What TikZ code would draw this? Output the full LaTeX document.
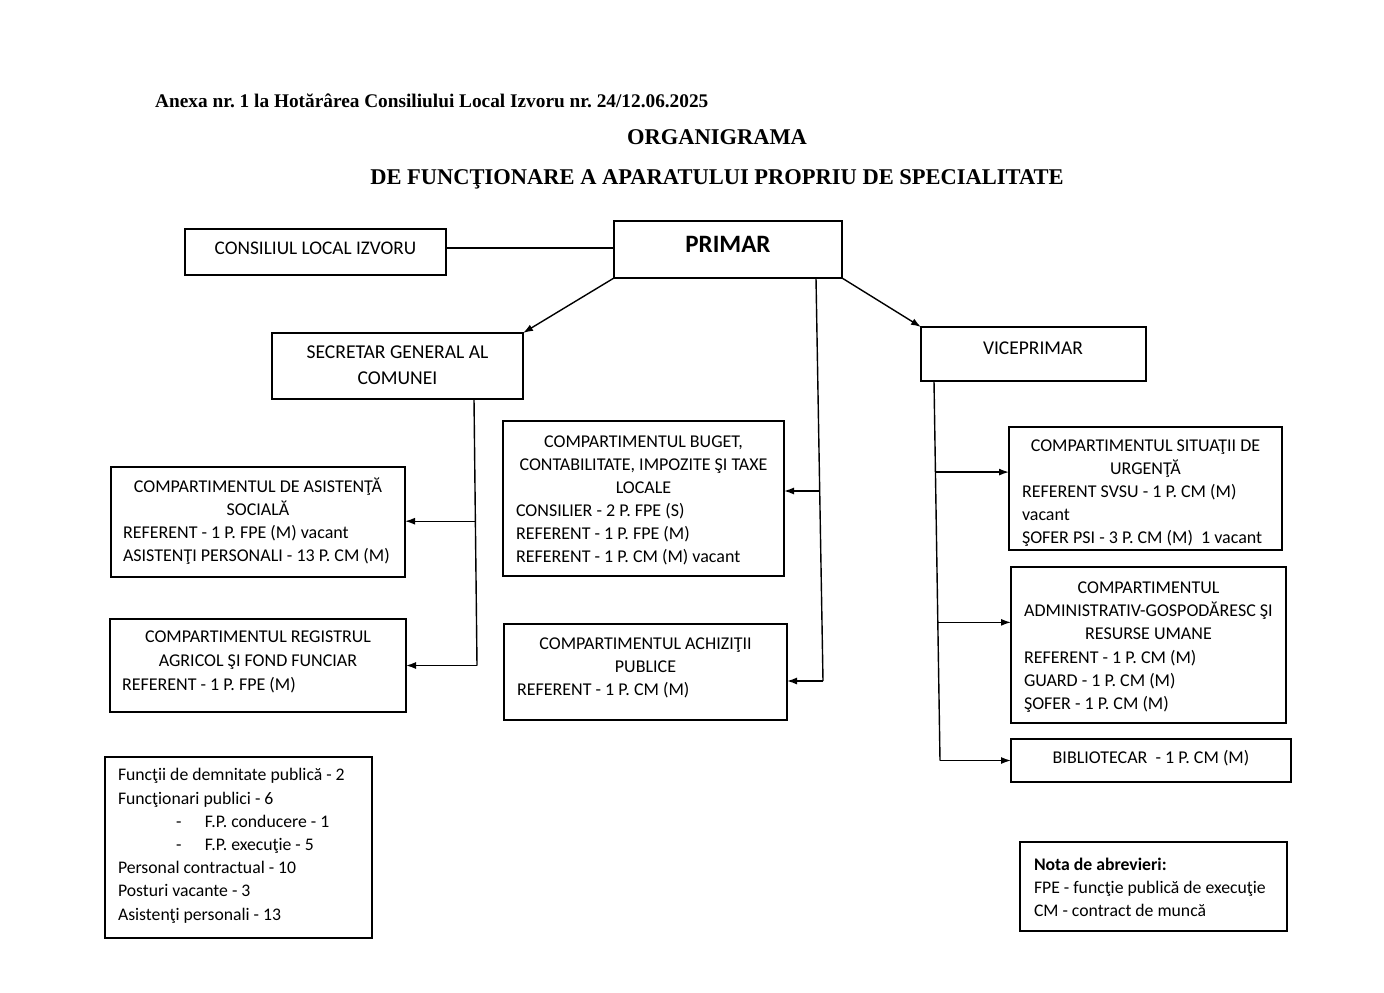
\documentclass[tikz,border=0pt]{standalone}
\usepackage{fontspec}
\setmainfont{Carlito}
\newfontfamily\serifT{Liberation Serif}
\usetikzlibrary{arrows.meta,calc}
\frenchspacing
\begin{document}
\begin{tikzpicture}[x=1pt,y=-1pt,
  box/.style={draw, line width=1.6pt, inner sep=0pt, outer sep=0pt, anchor=north west},
  txt/.style={inner sep=0pt, outer sep=0pt, font=\fontsize{18}{23}\selectfont},
  ctr/.style={txt, align=center, anchor=base},
  lft/.style={txt, align=left, anchor=base west},
  ttl/.style={inner sep=0pt, outer sep=0pt, anchor=base, font=\serifT\bfseries\fontsize{22.5}{26}\selectfont},
  conn/.style={line width=1.4pt},
  arr/.style={conn, -{Latex[length=10pt,width=7pt]}}]
\useasboundingbox[fill=white] (0,0) rectangle (1384,993);

% titles
\node[inner sep=0pt, anchor=base west, font=\serifT\bfseries\fontsize{19.3}{22}\selectfont] (anexa) at (155,107) {Anexa nr. 1 la Hotărârea Consiliului Local Izvoru nr. 24/12.06.2025};
\node[ttl] (org) at (717,144) {ORGANIGRAMA};
\node[ttl] (defn) at (717,184) {DE FUNCŢIONARE A APARATULUI PROPRIU DE SPECIALITATE};

% boxes
\node[box, minimum width=261, minimum height=46] (cons) at (185,229) {};
\node[box, minimum width=228, minimum height=57] (prim) at (614,221) {};
\node[box, minimum width=251, minimum height=66] (sec) at (272,333) {};
\node[box, minimum width=225, minimum height=54] (vice) at (921,327) {};
\node[box, minimum width=281, minimum height=155] (bug) at (503,421) {};
\node[box, minimum width=294, minimum height=110] (asis) at (111,467) {};
\node[box, minimum width=296, minimum height=93] (reg) at (110,619) {};
\node[box, minimum width=283, minimum height=96] (ach) at (504,624) {};
\node[box, minimum width=273, minimum height=123] (sit) at (1009,427) {};
\node[box, minimum width=275, minimum height=156] (adm) at (1011,567) {};
\node[box, minimum width=280, minimum height=43] (bib) at (1011,739) {};
\node[box, minimum width=267, minimum height=181] (sum) at (105,757) {};
\node[box, minimum width=267, minimum height=89] (nota) at (1020,842) {};

% texts (anchor base = baseline of the last line)
\node[ctr, font=\fontsize{19.3}{23}\selectfont] (consT) at (315.5,254) {CONSILIUL LOCAL IZVORU};
\node[ctr, font=\bfseries\fontsize{25}{30}\selectfont] (primT) at (728,252) {PRIMAR};
\node[ctr, font=\fontsize{19.6}{26}\selectfont] (secT) at (397.5,384) {SECRETAR GENERAL AL\\COMUNEI};
\node[ctr, font=\fontsize{19.5}{23}\selectfont] (viceT) at (1033,354) {VICEPRIMAR};

\node[ctr] (bugH) at (643.5,493) {COMPARTIMENTUL BUGET,\\CONTABILITATE, IMPOZITE ŞI TAXE\\LOCALE};
\node[lft] (bugL) at (516,562) {CONSILIER - 2 P. FPE (S)\\REFERENT - 1 P. FPE (M)\\REFERENT - 1 P. CM (M) vacant};

\node[ctr] (asisH) at (258,515) {COMPARTIMENTUL DE ASISTENŢĂ\\SOCIALĂ};
\node[lft] (asisL) at (123,561) {REFERENT - 1 P. FPE (M) vacant\\ASISTENŢI PERSONALI - 13 P. CM (M)};

\node[ctr, font=\fontsize{18}{24}\selectfont] (regH) at (258,666) {COMPARTIMENTUL REGISTRUL\\AGRICOL ŞI FOND FUNCIAR};
\node[lft] (regL) at (122,690) {REFERENT - 1 P. FPE (M)};

\node[ctr] (achH) at (645.5,672) {COMPARTIMENTUL ACHIZIŢII\\PUBLICE};
\node[lft] (achL) at (517,695) {REFERENT - 1 P. CM (M)};

\node[ctr] (sitH) at (1145.5,474) {COMPARTIMENTUL SITUAŢII DE\\URGENŢĂ};
\node[lft] (sitL) at (1022,543) {REFERENT SVSU - 1 P. CM (M)\\vacant\\ŞOFER PSI - 3 P. CM (M)\ \ 1 vacant};

\node[ctr] (admH) at (1148.5,639) {COMPARTIMENTUL\\ADMINISTRATIV-GOSPODĂRESC ŞI\\RESURSE UMANE};
\node[lft] (admL) at (1024,709) {REFERENT - 1 P. CM (M)\\GUARD - 1 P. CM (M)\\ŞOFER - 1 P. CM (M)};

\node[ctr] (bibT) at (1151,763) {BIBLIOTECAR\ \ - 1 P. CM (M)};

\node[lft, font=\fontsize{17.7}{23.2}\selectfont] (sumT) at (118,920) {Funcţii de demnitate publică - 2\\Funcţionari publici - 6\\\makebox[87pt][l]{\hspace*{58pt}-}F.P. conducere - 1\\\makebox[87pt][l]{\hspace*{58pt}-}F.P. execuţie - 5\\Personal contractual - 10\\Posturi vacante - 3\\Asistenţi personali - 13};

\node[lft, font=\fontsize{17.7}{23}\selectfont] (notaT) at (1034,916) {\textbf{Nota de abrevieri:}\\FPE - funcţie publică de execuţie\\CM - contract de muncă};

% connectors
\coordinate (ce) at ($(cons.east)+(0,-4)$);
\draw[conn] (ce) -- (ce -| prim.west);
\draw[arr] (prim.south west) -- (sec.north east);
\draw[arr] (prim.south east) -- (vice.north west);

\coordinate (pv) at ($(prim.south west)+(202,0)$);
\coordinate (pvb) at ($(ach.east)+(36,9)$);
\draw[conn] (pv) -- (pvb);
\draw[arr] (pvb) -- (pvb -| ach.east);
\coordinate (pvm) at ($(pv)!0.5285!(pvb)$);
\draw[arr] (pvm) -- (pvm -| bug.east);

\coordinate (sv) at ($(sec.south west)+(202,0)$);
\coordinate (svb) at ($(reg.east)+(71,0)$);
\draw[conn] (sv) -- (svb);
\draw[arr] (svb) -- (reg.east);
\coordinate (svm) at ($(sv)!(asis.east)!(svb)$);
\draw[arr] (svm) -- (svm -| asis.east);

\coordinate (vv) at ($(vice.south west)+(13,0)$);
\coordinate (vvb) at ($(bib.west)+(-71,0)$);
\draw[conn] (vv) -- (vvb);
\draw[arr] (vvb) -- (bib.west);
\coordinate (vs) at ($(vv)!0.24!(vvb)$);
\draw[arr] (vs) -- (vs -| sit.west);
\coordinate (va) at ($(vv)!0.636!(vvb)$);
\draw[arr] (va) -- (va -| adm.west);
\end{tikzpicture}
\end{document}
